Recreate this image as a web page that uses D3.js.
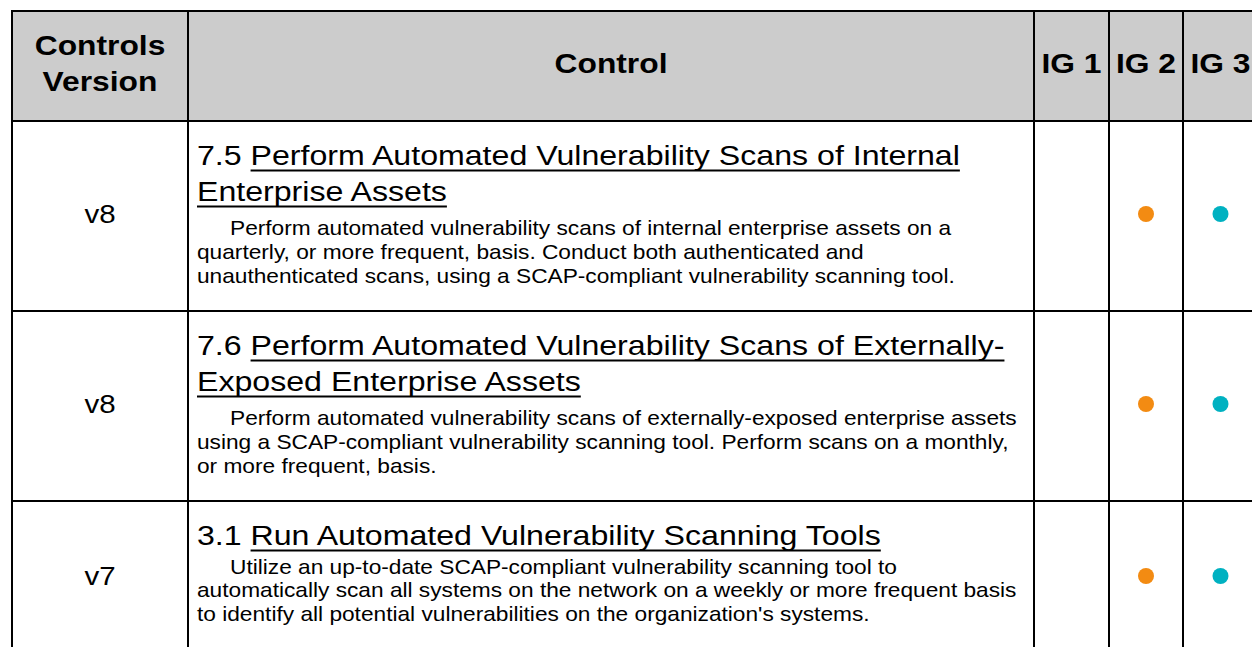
<!DOCTYPE html>
<html>
<head>
<meta charset="utf-8">
<script src="https://cdn.jsdelivr.net/npm/d3@7"></script>
<style>
  html, body { margin: 0; padding: 0; background: #fff; overflow: hidden; }
  svg { display: block; }
  text { font-family: "Liberation Sans", Arial, sans-serif; fill: #000; }
</style>
</head>
<body>
<svg id="chart" width="1252" height="647"></svg>
<script>
// ---- data ----
const headers = ["Controls\nVersion", "Control", "IG 1", "IG 2", "IG 3"];
const versions = ["v8", "v8", "v7"];
const controlIds = ["7.5", "7.6", "3.1"];
const titleLines = [
  ["Perform Automated Vulnerability Scans of Internal", "Enterprise Assets"],
  ["Perform Automated Vulnerability Scans of Externally-", "Exposed Enterprise Assets"],
  ["Run Automated Vulnerability Scanning Tools"]
];
const descriptionLines = [
  ["Perform automated vulnerability scans of internal enterprise assets on a",
   "quarterly, or more frequent, basis. Conduct both authenticated and",
   "unauthenticated scans, using a SCAP-compliant vulnerability scanning tool."],
  ["Perform automated vulnerability scans of externally-exposed enterprise assets",
   "using a SCAP-compliant vulnerability scanning tool. Perform scans on a monthly,",
   "or more frequent, basis."],
  ["Utilize an up-to-date SCAP-compliant vulnerability scanning tool to",
   "automatically scan all systems on the network on a weekly or more frequent basis",
   "to identify all potential vulnerabilities on the organization's systems."]
];
const ig1 = [false, false, false];
const ig2 = [true, true, true];
const ig3 = [true, true, true];

// ---- layout ----
const colEdges = [12, 188, 1034, 1109, 1183, 1258];
const headerTop = 11, headerBottom = 121;
const rowHeights = [190, 190, 154];
const igColors = ["#F38B12", "#F38B12", "#00B1C1"];
const SX = 1.135; // horizontal glyph stretch seen in the reference

const svg = d3.select("#chart");

function addText(x, y, size, str, opts = {}) {
  const t = svg.append("text")
    .attr("transform", `translate(${x},${y}) scale(${SX},1)`)
    .attr("font-size", size)
    .attr("xml:space", "preserve")
    .text(str);
  if (opts.anchor) t.attr("text-anchor", opts.anchor);
  if (opts.bold) t.attr("font-weight", "bold");
  return t;
}

// row edges
const rowEdges = [headerBottom];
rowHeights.forEach((h, i) => rowEdges.push(rowEdges[i] + h));

// header background
svg.append("rect")
  .attr("x", colEdges[0]).attr("y", headerTop)
  .attr("width", colEdges[5] - colEdges[0]).attr("height", headerBottom - headerTop)
  .attr("fill", "#cccccc");

// header text
const colCenter = i => (colEdges[i] + colEdges[i + 1]) / 2;
headers.forEach((h, i) => {
  const lines = h.split("\n");
  if (lines.length === 2) {
    addText(colCenter(i), 55, 28, lines[0], { anchor: "middle", bold: true });
    addText(colCenter(i), 90.5, 28, lines[1], { anchor: "middle", bold: true });
  } else {
    addText(colCenter(i), 72.5, 28, lines[0], { anchor: "middle", bold: true });
  }
});

// body rows
const textX = 197;
versions.forEach((v, r) => {
  const top = rowEdges[r];
  const mid = top + rowHeights[r] / 2 - 2;

  addText(colCenter(0), mid + 9, 26, v, { anchor: "middle" });

  // title lines
  const tl = titleLines[r];
  let y = top + 44;
  tl.forEach((line, li) => {
    const full = (li === 0 ? controlIds[r] + " " : "") + line;
    const t = addText(textX, y, 28.3, full);
    const node = t.node();
    const startIdx = li === 0 ? controlIds[r].length + 1 : 0;
    const x0 = textX + (startIdx > 0 ? node.getSubStringLength(0, startIdx) * SX : 0);
    const w = node.getSubStringLength(startIdx, full.length - startIdx) * SX;
    svg.append("rect")
      .attr("x", x0).attr("y", y + 4.5)
      .attr("width", w).attr("height", 2)
      .attr("fill", "#000");
    if (li < tl.length - 1) y += 36;
  });

  // description lines
  let by = y + (tl.length > 1 ? 34 : 28.5);
  descriptionLines[r].forEach((line, li) => {
    addText(li === 0 ? textX + 33 : textX, by, 20, line);
    by += 23.8;
  });

  // IG dots
  [ig1, ig2, ig3].forEach((arr, k) => {
    if (arr[r]) {
      svg.append("circle")
        .attr("cx", colCenter(k + 2)).attr("cy", mid)
        .attr("r", 8)
        .attr("fill", igColors[k]);
    }
  });
});

// grid lines
const g = svg.append("g").attr("stroke", "#000").attr("stroke-width", 2);
colEdges.forEach(x => {
  g.append("line").attr("x1", x).attr("x2", x)
    .attr("y1", headerTop - 1).attr("y2", rowEdges[rowEdges.length - 1] + 1);
});
[headerTop].concat(rowEdges).forEach(y => {
  g.append("line").attr("y1", y).attr("y2", y)
    .attr("x1", colEdges[0] - 1).attr("x2", colEdges[5] + 1);
});
</script>
</body>
</html>
